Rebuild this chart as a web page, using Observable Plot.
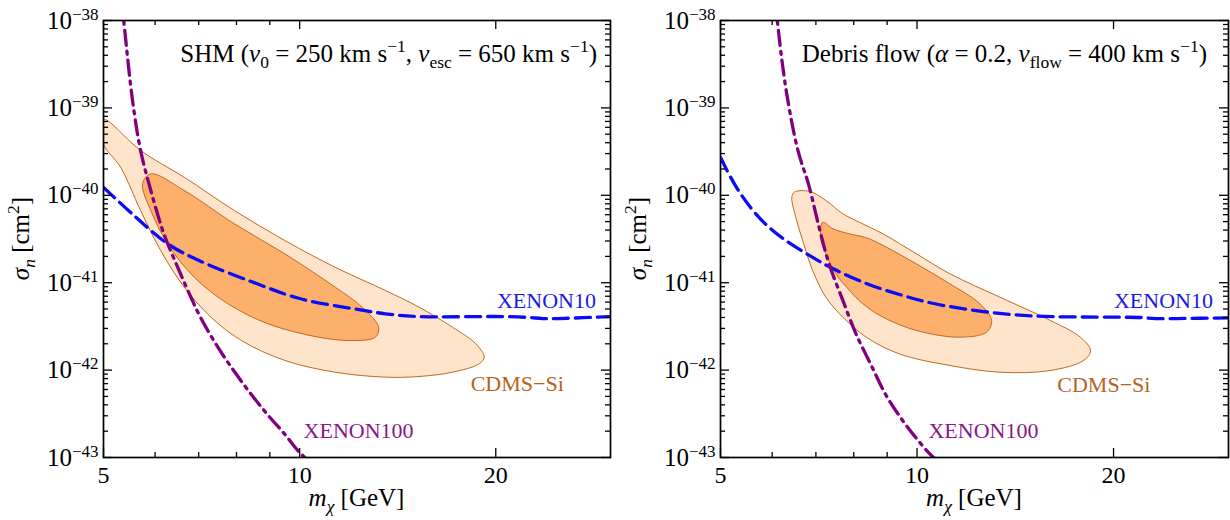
<!DOCTYPE html>
<html><head><meta charset="utf-8">
<script src="https://cdn.jsdelivr.net/npm/d3@7"></script>
<script src="https://cdn.jsdelivr.net/npm/@observablehq/plot@0.6"></script>
<style>
body{margin:0;background:#fff;}
#wrap{display:flex;width:1230px;height:520px;overflow:hidden;}
</style></head><body><div id="wrap"></div>
<script>
// ---------- data (mass in GeV, cross-section in cm^2) ----------
const massTicks = [5, 10, 20];
const massMinorTicks = [6, 7, 8, 9];
const sigmaTicks = [1e-43, 1e-42, 1e-41, 1e-40, 1e-39, 1e-38];

// Left panel: SHM
const shmCdmsOuter = [[5.00,7.36e-40],[5.07,7.18e-40],[5.70,3.26e-40],[6.65,1.61e-40],[7.94,6.70e-41],[9.49,3.04e-41],[11.34,1.50e-41],[13.54,8.15e-42],[15.25,5.25e-42],[17.16,3.10e-42],[18.64,2.00e-42],[19.20,1.41e-42],[18.86,1.18e-42],[17.16,9.46e-43],[15.25,8.45e-43],[13.54,8.30e-43],[11.34,9.46e-43],[9.49,1.29e-42],[8.14,2.18e-42],[7.31,4.03e-42],[6.65,8.89e-42],[6.12,2.33e-41],[5.70,6.70e-41],[5.31,2.10e-40],[5.00,3.88e-40]];
const shmCdmsInner = [[5.91,1.76e-40],[6.65,1.135e-40],[7.94,4.72e-41],[9.49,2.14e-41],[11.34,8.89e-42],[12.47,5.25e-42],[13.22,3.10e-42],[13.07,2.38e-42],[12.03,2.18e-42],[10.69,2.38e-42],[8.94,3.39e-42],[7.76,5.74e-42],[6.89,1.156e-41],[6.27,2.79e-41],[5.91,6.70e-41],[5.74,1.355e-40]];
const shmXenon10 = [[5.00,1.23e-40],[5.57,5.87e-41],[6.27,2.79e-41],[7.06,1.75e-41],[8.43,1.03e-41],[10.0,6.59e-42],[12.03,5.07e-42],[13.54,4.41e-42],[15.25,4.10e-42],[20.5,4.10e-42],[22.5,4.0e-42],[23.6,3.89e-42],[25.0,3.89e-42],[30.0,4.10e-42]];
const shmXenon100 = [[5.33,1.69e-38],[5.37,1e-38],[5.54,1.22e-39],[5.70,3.26e-40],[5.91,1.135e-40],[6.19,3.62e-41],[6.50,1.50e-41],[6.81,6.81e-42],[7.06,3.89e-42],[7.49,1.83e-42],[7.94,9.64e-43],[8.43,5.26e-43],[8.95,3.03e-43],[9.48,1.86e-43],[10.0,1.14e-43],[10.5,8.18e-44]];

// Right panel: Debris flow
const dfCdmsOuter = [[6.49,1.09e-40],[6.84,1.11e-40],[7.25,8.73e-41],[7.70,6.14e-41],[8.16,4.92e-41],[8.87,3.62e-41],[9.98,2.14e-41],[11.23,1.265e-41],[13.40,6.82e-42],[16.00,3.70e-42],[17.79,2.38e-42],[18.44,1.67e-42],[18.0,1.29e-42],[16.00,9.89e-43],[13.40,9.46e-43],[11.23,1.13e-42],[9.40,1.53e-42],[8.36,2.38e-42],[7.70,4.03e-42],[7.25,6.82e-42],[6.92,1.38e-41],[6.68,3.04e-41],[6.52,5.61e-41],[6.43,9.51e-41]];
const dfCdmsInner = [[7.17,4.92e-41],[7.43,4.14e-41],[7.88,3.62e-41],[8.36,3.27e-41],[8.87,2.67e-41],[9.98,1.64e-41],[11.23,9.70e-42],[12.48,5.74e-42],[13.01,3.70e-42],[12.78,2.72e-42],[11.63,2.38e-42],[9.98,2.84e-42],[8.87,4.03e-42],[8.26,5.74e-42],[7.88,8.15e-42],[7.51,1.265e-41],[7.25,2.14e-41],[7.12,3.32e-41]];
const dfXenon10 = [[5.00,2.70e-40],[5.27,1.29e-40],[5.56,7.24e-41],[5.87,4.63e-41],[6.23,3.21e-41],[6.84,2.05e-41],[7.43,1.45e-41],[8.36,9.79e-42],[9.40,7.33e-42],[10.6,5.78e-42],[12.64,4.68e-42],[15.08,4.16e-42],[20.3,4.03e-42],[22.0,4.0e-42],[23.2,3.89e-42],[25.0,3.89e-42],[30.0,3.96e-42]];
const dfXenon100 = [[6.07,1.69e-38],[6.11,1e-38],[6.21,3.48e-39],[6.34,1.22e-39],[6.57,3.26e-40],[6.83,1.29e-40],[7.08,4.28e-41],[7.33,1.66e-41],[7.70,6.25e-42],[8.06,2.62e-42],[8.51,1.13e-42],[8.97,5.12e-43],[9.46,2.79e-43],[9.98,1.65e-43],[10.6,1.0e-43],[11.1,7.7e-44]];

// text
const shmTitle = [{t:"SHM ("},{t:"v",i:1},{t:"0",sub:1},{t:" = 250 km s"},{t:"−1",sup:1},{t:", "},{t:"v",i:1},{t:"esc",sub:1},{t:" = 650 km s"},{t:"−1",sup:1},{t:")"}];
const dfTitle = [{t:"Debris flow ("},{t:"α",i:1},{t:" = 0.2, "},{t:"v",i:1},{t:"flow",sub:1},{t:" = 400 km s"},{t:"−1",sup:1},{t:")"}];
const yLabel = [{t:"σ",i:1},{t:"n",sub:1,i:1},{t:" [cm"},{t:"2",sup:1},{t:"]"}];
const xLabel = [{t:"m",i:1},{t:"χ",sub:1,i:1},{t:" [GeV]"}];

// ---------- styling ----------
const FONT = "'Liberation Serif','Times New Roman',serif";
const FILL_LIGHT = "#fde4cb", FILL_DARK = "#fcb06c", EDGE = "#bf6a1e";
const BLUE = "#0b0bf5", PURPLE = "#800080";
const BLUE_TXT = "#1a1ae8", CDMS_TXT = "#b8621c", PURPLE_TXT = "#8a168a";

function rich(textSel, parts, fs) {
  let shift = 0;
  for (const p of parts) {
    const ts = textSel.append("tspan").text(p.t);
    let target = 0, size = fs;
    if (p.sub) { target = 0.22 * fs; size = 0.7 * fs; }
    if (p.sup) { target = -0.42 * fs; size = 0.7 * fs; }
    if (target !== shift) { ts.attr("dy", target - shift); shift = target; }
    ts.attr("font-size", size);
    if (p.i) ts.attr("font-style", "italic");
  }
}

function makePanel(cfg) {
  const W = 615, H = 520, mt = 20, mb = 63;
  const fw = W - cfg.ml - cfg.mr, fh = H - mt - mb;
  const yMinor = [];
  for (let k = -43; k < -38; k++) for (let j = 2; j <= 9; j++) yMinor.push(j * Math.pow(10, k));
  const P = d => d[0], S = d => d[1];
  const tk = {stroke: "black", strokeWidth: 1.3};
  const svg = Plot.plot({
    width: W, height: H,
    marginLeft: cfg.ml, marginRight: cfg.mr, marginTop: mt, marginBottom: mb,
    style: {fontFamily: FONT, background: "white", color: "black"},
    x: {type: "log", domain: [5, 30]},
    y: {type: "log", domain: [1e-43, 1e-38]},
    marks: [
      Plot.line(cfg.outer, {x: P, y: S, curve: "catmull-rom-closed", fill: FILL_LIGHT, stroke: EDGE, strokeWidth: 1, clip: true}),
      Plot.line(cfg.inner, {x: P, y: S, curve: "catmull-rom-closed", fill: FILL_DARK, stroke: EDGE, strokeWidth: 1, clip: true}),
      Plot.line(cfg.x10, {x: P, y: S, curve: "catmull-rom", stroke: BLUE, strokeWidth: 3.3, strokeDasharray: "15,7", clip: true}),
      Plot.line(cfg.x100, {x: P, y: S, curve: "catmull-rom", stroke: PURPLE, strokeWidth: 3.3, strokeDasharray: "15,6,3,6", clip: true}),
      Plot.tickX(massTicks, {x: d => d, insetTop: fh - 9, ...tk}),
      Plot.tickX(massTicks, {x: d => d, insetBottom: fh - 9, ...tk}),
      Plot.tickX(massMinorTicks, {x: d => d, insetTop: fh - 5, ...tk}),
      Plot.tickX(massMinorTicks, {x: d => d, insetBottom: fh - 5, ...tk}),
      Plot.tickY(sigmaTicks, {y: d => d, insetRight: fw - 9, ...tk}),
      Plot.tickY(sigmaTicks, {y: d => d, insetLeft: fw - 9, ...tk}),
      Plot.tickY(yMinor, {y: d => d, insetRight: fw - 5, ...tk}),
      Plot.tickY(yMinor, {y: d => d, insetLeft: fw - 5, ...tk}),
      Plot.frame({stroke: "black", strokeWidth: 1.7}),
      Plot.axisX(massTicks, {anchor: "bottom", tickSize: 0, tickPadding: 8, fontSize: 24, tickFormat: d => String(d), label: null}),
      Plot.axisY(sigmaTicks, {anchor: "left", tickSize: 0, tickPadding: 5, fontSize: 25, tickFormat: d => "10^" + Math.round(Math.log10(d)), label: null}),
      ...cfg.labels.map(l => Plot.text([l.text], {x: () => l.m, y: () => l.s, text: d => d, textAnchor: l.anchor, fill: l.color, fontSize: 22}))
    ]
  });
  const s = d3.select(svg);
  s.selectAll('g[aria-label="y-axis tick label"] text').each(function () {
    const [b, e] = this.textContent.split("^");
    const t = d3.select(this);
    t.text(null);
    t.append("tspan").text(b);
    t.append("tspan").attr("dy", -9).attr("font-size", 17).text(e.replace("-", "−"));
  });
  // title
  const tt = s.append("text").attr("x", W - cfg.mr - cfg.titleInset).attr("y", 62)
    .attr("text-anchor", "end").attr("font-size", 25).attr("fill", "black");
  rich(tt, cfg.title, 25);
  // axis labels
  const xl = s.append("text").attr("x", cfg.ml + fw / 2).attr("y", 506)
    .attr("text-anchor", "middle").attr("font-size", 25).attr("fill", "black");
  rich(xl, xLabel, 25);
  const yl = s.append("text").attr("transform", `translate(${cfg.ml - 74},${mt + fh / 2}) rotate(-90)`)
    .attr("text-anchor", "middle").attr("font-size", 25).attr("fill", "black");
  rich(yl, yLabel, 25);
  return svg;
}

const wrap = document.getElementById("wrap");
wrap.appendChild(makePanel({
  ml: 103, mr: 5, titleInset: 13, title: shmTitle,
  outer: shmCdmsOuter, inner: shmCdmsInner, x10: shmXenon10, x100: shmXenon100,
  labels: [
    {text: "XENON10", m: 28.5, s: 6.18e-42, anchor: "end", color: BLUE_TXT},
    {text: "CDMS−Si", m: 18.3, s: 6.93e-43, anchor: "start", color: CDMS_TXT},
    {text: "XENON100", m: 10.14, s: 2.01e-43, anchor: "start", color: PURPLE_TXT}
  ]
}));
wrap.appendChild(makePanel({
  ml: 105, mr: 2, titleInset: 21, title: dfTitle,
  outer: dfCdmsOuter, inner: dfCdmsInner, x10: dfXenon10, x100: dfXenon100,
  labels: [
    {text: "XENON10", m: 28.4, s: 6.18e-42, anchor: "end", color: BLUE_TXT},
    {text: "CDMS−Si", m: 16.4, s: 6.76e-43, anchor: "start", color: CDMS_TXT},
    {text: "XENON100", m: 10.41, s: 2.0e-43, anchor: "start", color: PURPLE_TXT}
  ]
}));
</script></body></html>
